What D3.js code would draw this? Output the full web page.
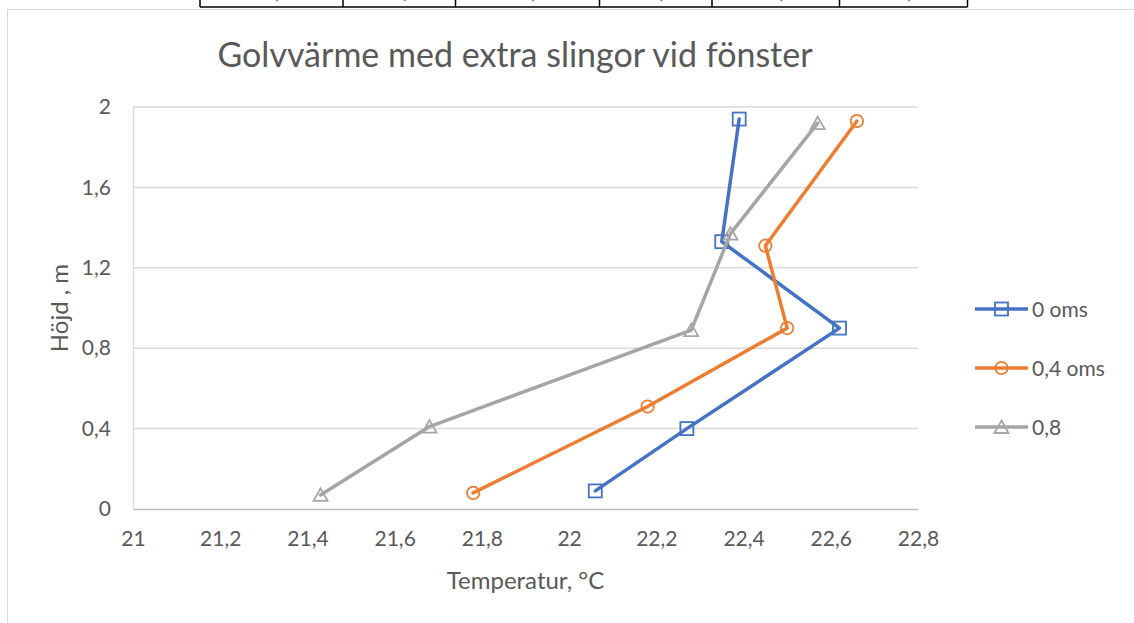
<!DOCTYPE html>
<html>
<head>
<meta charset="utf-8">
<script src="https://cdn.jsdelivr.net/npm/d3@7"></script>
<style>
  body { margin: 0; background: #fff; }
  text { font-family: Lato, "Liberation Sans", sans-serif; fill: #595959; }
</style>
</head>
<body>
<div id="chart"></div>
<script>
// Data
const seriesNames = ["0 oms", "0,4 oms", "0,8"];
const temp0 = [22.06, 22.27, 22.62, 22.35, 22.39];
const hojd0 = [0.09, 0.40, 0.90, 1.33, 1.94];
const temp04 = [21.78, 22.18, 22.50, 22.45, 22.66];
const hojd04 = [0.08, 0.51, 0.90, 1.31, 1.93];
const temp08 = [21.43, 21.68, 22.28, 22.37, 22.57];
const hojd08 = [0.07, 0.41, 0.89, 1.37, 1.92];
const xTicks = [21, 21.2, 21.4, 21.6, 21.8, 22, 22.2, 22.4, 22.6, 22.8];
const yTicks = [0, 0.4, 0.8, 1.2, 1.6, 2];

const colors = ["#4472C4", "#ED7D31", "#A5A5A5"];
const markers = ["square", "circle", "triangle"];

const series = [
  { name: seriesNames[0], values: temp0.map((t, i) => ({ t, h: hojd0[i] })) },
  { name: seriesNames[1], values: temp04.map((t, i) => ({ t, h: hojd04[i] })) },
  { name: seriesNames[2], values: temp08.map((t, i) => ({ t, h: hojd08[i] })) }
];

// Dimensions
const W = 1134, H = 623;
const plot = { left: 133, right: 918, top: 107, bottom: 509 };

const svg = d3.select("#chart")
  .append("svg")
  .attr("width", W)
  .attr("height", H);

// Table fragment above the chart (part of the page it was cut from)
const tableCols = [200, 343, 455.5, 599.5, 712, 839.5, 967.5];
svg.append("line")
  .attr("x1", tableCols[0]).attr("x2", tableCols[tableCols.length - 1])
  .attr("y1", 7).attr("y2", 7)
  .attr("stroke", "#000").attr("stroke-width", 1.5);
svg.selectAll(".tcol")
  .data(tableCols)
  .enter()
  .append("line")
  .attr("x1", d => d).attr("x2", d => d)
  .attr("y1", 0).attr("y2", 7)
  .attr("stroke", "#000").attr("stroke-width", 1.5);
svg.selectAll(".tcomma")
  .data(d3.pairs(tableCols))
  .enter()
  .append("text")
  .attr("x", d => (d[0] + d[1]) / 2 + 6)
  .attr("y", -1)
  .attr("text-anchor", "middle")
  .style("font-family", "'Liberation Serif', serif")
  .style("font-size", "16px")
  .style("fill", "#000")
  .text(",");

// Chart frame
svg.append("rect")
  .attr("x", 7.5).attr("y", 9.5)
  .attr("width", W).attr("height", H)
  .attr("fill", "none")
  .attr("stroke", "#D9D9D9");

// Scales
const xScale = d3.scaleLinear().domain([21, 22.8]).range([plot.left, plot.right]);
const yScale = d3.scaleLinear().domain([0, 2]).range([plot.bottom, plot.top]);

// Gridlines
svg.append("g")
  .selectAll("line")
  .data(yTicks.filter(d => d > 0))
  .enter()
  .append("line")
  .attr("x1", plot.left).attr("x2", plot.right)
  .attr("y1", d => yScale(d)).attr("y2", d => yScale(d))
  .attr("stroke", "#D9D9D9")
  .attr("stroke-width", 1.5);

// Axes
const fmt = d => d3.format("~g")(d).replace(".", ",");

const xAxis = svg.append("g")
  .attr("transform", `translate(0,${plot.bottom})`)
  .call(d3.axisBottom(xScale).tickValues(xTicks).tickFormat(fmt).tickSize(0).tickPadding(22));
xAxis.select(".domain").attr("stroke", "#BFBFBF").attr("stroke-width", 1.5);
xAxis.selectAll("text").style("font-size", "21px").attr("fill", "#595959");

const yAxis = svg.append("g")
  .attr("transform", `translate(${plot.left},0)`)
  .call(d3.axisLeft(yScale).tickValues(yTicks).tickFormat(fmt).tickSize(0).tickPadding(22));
yAxis.select(".domain").attr("stroke", "#D9D9D9").attr("stroke-width", 1.5);
yAxis.selectAll("text").style("font-size", "21px").attr("fill", "#595959");

// Titles
svg.append("text")
  .attr("x", 515)
  .attr("y", 67)
  .attr("text-anchor", "middle")
  .style("font-size", "34px")
  .text("Golvvärme med extra slingor vid fönster");

svg.append("text")
  .attr("x", (plot.left + plot.right) / 2)
  .attr("y", 589)
  .attr("text-anchor", "middle")
  .style("font-size", "24px")
  .text("Temperatur, °C");

svg.append("text")
  .attr("transform", `translate(68,${(plot.top + plot.bottom) / 2}) rotate(-90)`)
  .attr("text-anchor", "middle")
  .style("font-size", "24px")
  .text("Höjd , m");

// Marker drawing
function drawMarker(sel, type, color) {
  if (type === "square") {
    sel.append("rect")
      .attr("x", -6.5).attr("y", -6.5)
      .attr("width", 13).attr("height", 13);
  } else if (type === "circle") {
    sel.append("circle").attr("r", 6.2);
  } else {
    sel.append("path").attr("d", "M0,-6.5L7,6L-7,6Z");
  }
  sel.selectAll("rect,circle,path")
    .attr("fill", "none")
    .attr("stroke", color)
    .attr("stroke-width", 1.8);
}

// Lines
const line = d3.line()
  .x(d => xScale(d.t))
  .y(d => yScale(d.h));

series.forEach((s, i) => {
  svg.append("path")
    .datum(s.values)
    .attr("d", line)
    .attr("fill", "none")
    .attr("stroke", colors[i])
    .attr("stroke-width", 3.5)
    .attr("stroke-linejoin", "round")
    .attr("stroke-linecap", "round");

  svg.append("g")
    .selectAll("g")
    .data(s.values)
    .enter()
    .append("g")
    .attr("transform", d => `translate(${xScale(d.t)},${yScale(d.h)})`)
    .each(function() { drawMarker(d3.select(this), markers[i], colors[i]); });
});

// Legend
const legend = svg.append("g")
  .selectAll("g")
  .data(series)
  .enter()
  .append("g")
  .attr("transform", (d, i) => `translate(975,${309 + i * 59})`);

legend.append("line")
  .attr("x1", 0).attr("x2", 53)
  .attr("stroke", (d, i) => colors[i])
  .attr("stroke-width", 3.5);

legend.append("g")
  .attr("transform", "translate(26.5,0)")
  .each(function(d, i) { drawMarker(d3.select(this), markers[i], colors[i]); });

legend.append("text")
  .attr("x", 57)
  .attr("y", 8)
  .style("font-size", "21px")
  .text(d => d.name);
</script>
</body>
</html>
